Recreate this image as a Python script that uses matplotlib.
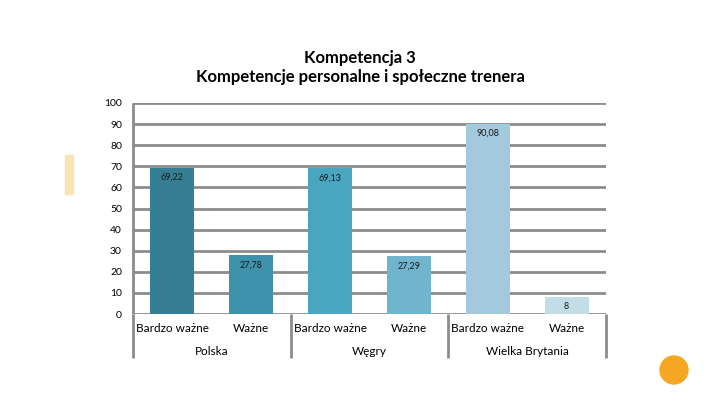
import matplotlib
matplotlib.use("Agg")
import matplotlib.pyplot as plt
from matplotlib.patches import Rectangle, Circle

plt.rcParams["font.family"] = ["Lato", "DejaVu Sans"]

countries = ["Polska", "Węgry", "Wielka Brytania"]
levels = ["Bardzo ważne", "Ważne"]
values = [69.22, 27.78, 69.13, 27.29, 90.08, 8]
value_labels = ["69,22", "27,78", "69,13", "27,29", "90,08", "8"]
bar_colors = ["#347D92", "#3D91AA", "#4AA6C0", "#70B5CD", "#A2CADC", "#C3DDE7"]
yticks = [0, 10, 20, 30, 40, 50, 60, 70, 80, 90, 100]

grid_color = "#8C8C8C"

fig = plt.figure(figsize=(7.2, 4.05), dpi=100)
ax = fig.add_axes([133 / 720, 1 - 314 / 405, 473 / 720, 211 / 405])

n = len(values)
xs = list(range(n))
ax.bar(xs, values, width=0.56, color=bar_colors, zorder=3)
ax.set_xlim(-0.5, n - 0.5)
ax.set_ylim(0, 100)

for y in yticks:
    ax.axhline(y, color=grid_color, lw=2, zorder=1)
for s in ax.spines.values():
    s.set_visible(False)
ax.set_yticks(yticks)
ax.set_yticklabels([str(t) for t in yticks], fontsize=7.5)
ax.tick_params(axis="y", length=0, pad=8)
ax.set_xticks([])

for x, v, lab in zip(xs, values, value_labels):
    ax.annotate(lab, (x, v), xytext=(0, -7), textcoords="offset points",
                ha="center", va="center", fontsize=6.5, color="#1a1a1a", zorder=4)

# category axis: level labels, group names and separators
trans = ax.get_xaxis_transform()
for i in range(n):
    ax.text(i, -0.07, levels[i % 2], transform=trans, ha="center", va="center",
            fontsize=8.5, clip_on=False)
for g, name in enumerate(countries):
    ax.text(2 * g + 0.5, -0.18, name, transform=trans, ha="center", va="center",
            fontsize=8.5, clip_on=False)
for sx in [-0.5, 1.5, 3.5, 5.5]:
    ax.plot([sx, sx], [0, -0.21], transform=trans, color=grid_color, lw=2,
            clip_on=False, solid_capstyle="butt")
ax.plot([-0.5, -0.5], [0, 1], transform=trans, color=grid_color, lw=2,
        clip_on=False, solid_capstyle="butt")

fig.text(0.5, 1 - 58 / 405, "Kompetencja 3", ha="center", va="center",
         fontsize=12, fontweight="bold")
fig.text(0.5, 1 - 77 / 405, "Kompetencje personalne i społeczne trenera",
         ha="center", va="center", fontsize=12, fontweight="bold")

# slide decorations
fig.patches.append(Rectangle((65 / 720, 1 - 194 / 405), 8 / 720, 39 / 405,
                             transform=fig.transFigure, color="#FAE3B4"))
fig.patches.append(Circle((6.74, 4.05 - 3.70), 0.14,
                          transform=fig.dpi_scale_trans, color="#F5A623"))

fig.savefig("out.png", dpi=100)
